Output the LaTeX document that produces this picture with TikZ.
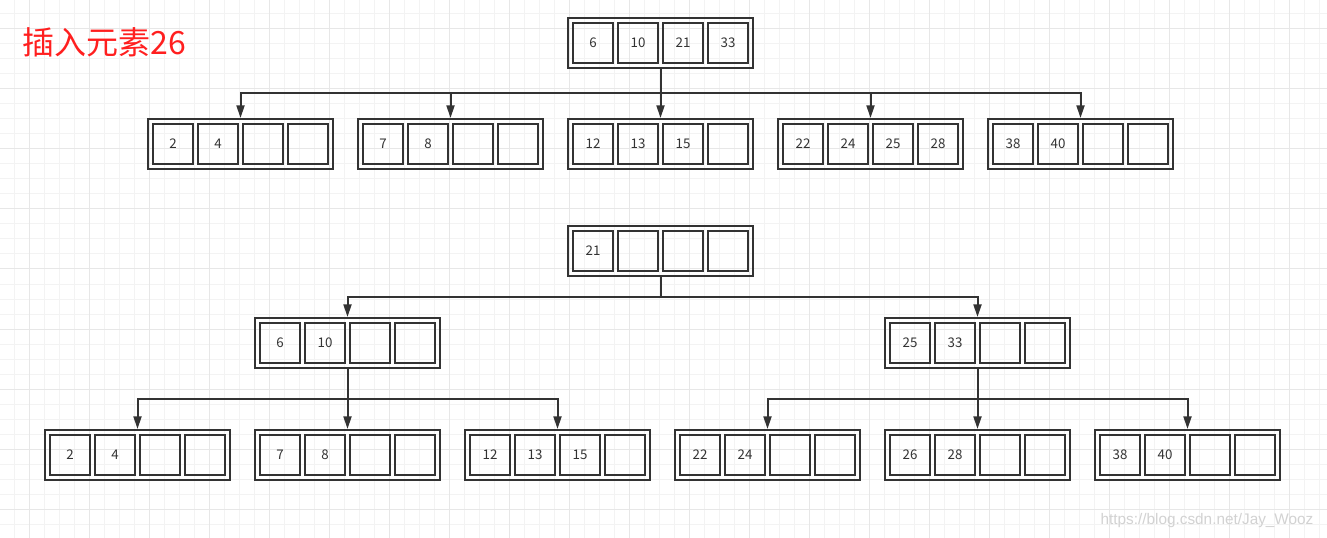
\documentclass[tikz,border=0pt]{standalone}
\usepackage{fontspec}
\setmainfont{Noto Sans CJK SC}
\newfontfamily\wmfont{Liberation Sans}
\usetikzlibrary{arrows.meta,positioning,calc}
\definecolor{btink}{HTML}{333333}
\definecolor{btred}{HTML}{FF1F1F}
\definecolor{btgrid}{HTML}{F3F3F3}
\definecolor{btgridmajor}{HTML}{E7E7E7}
\definecolor{btmark}{HTML}{D2D2D2}

% one B-tree node: outer frame and four key cells
\newcommand{\btnode}[6]{%
  \node[outerbox] (#1) at (#2) {};
  \foreach \dx/\val [count=\i] in {-67.5/#3,-22.5/#4,22.5/#5,67.5/#6}
    \node[cellbox] (#1-\i) at ($(#1.center)+(\dx,0)$) {\val};
}

\begin{document}
\begin{tikzpicture}[x=0.75pt,y=-0.75pt,
    outerbox/.style={draw=btink,line width=1.5pt,minimum width=138.75pt,minimum height=37.5pt,inner sep=0pt},
    cellbox/.style={draw=btink,line width=1.5pt,minimum size=30pt,inner sep=0pt,text=btink,font=\fontsize{10}{12}\selectfont},
    link/.style={draw=btink,line width=1.5pt,-{Triangle[length=9.5pt,width=6pt]},
      to path={(\tikztostart.south) |- ($(\tikztostart.south)!.5!(\tikztotarget.north)$) -| (\tikztotarget.north)}}]
  \useasboundingbox (0,0) rectangle (1327,538);
  \fill[white] (0,0) rectangle (1327,538);
  % grid
  \foreach \g in {14,29,...,1326} \draw[btgrid,line width=0.75pt] (\g,0) -- (\g,538);
  \foreach \g in {14,29,...,537} \draw[btgrid,line width=0.75pt] (0,\g) -- (1327,\g);
  \foreach \g in {29,89,...,1326} \draw[btgridmajor,line width=0.75pt] (\g,0) -- (\g,538);
  \foreach \g in {29,89,...,537} \draw[btgridmajor,line width=0.75pt] (0,\g) -- (1327,\g);

  \node[font=\fontsize{24}{28}\selectfont,text=btred] (title) at (104,42) {插入元素26};

  % before the split
  \btnode{a0}{660.5,43}{6}{10}{21}{33}
  \btnode{a1}{240.5,144}{2}{4}{}{}
  \btnode{a2}{450.5,144}{7}{8}{}{}
  \btnode{a3}{660.5,144}{12}{13}{15}{}
  \btnode{a4}{870.5,144}{22}{24}{25}{28}
  \btnode{a5}{1080.5,144}{38}{40}{}{}
  \foreach \c in {a1,a2,a3,a4,a5} \draw[link] (a0) to (\c);

  % after the split
  \btnode{b0}{660.5,251}{21}{}{}{}
  \btnode{b1}{347.5,343}{6}{10}{}{}
  \btnode{b2}{977.5,343}{25}{33}{}{}
  \btnode{c1}{137.5,455}{2}{4}{}{}
  \btnode{c2}{347.5,455}{7}{8}{}{}
  \btnode{c3}{557.5,455}{12}{13}{15}{}
  \btnode{c4}{767.5,455}{22}{24}{}{}
  \btnode{c5}{977.5,455}{26}{28}{}{}
  \btnode{c6}{1187.5,455}{38}{40}{}{}
  \foreach \c in {b1,b2} \draw[link] (b0) to (\c);
  \foreach \c in {c1,c2,c3} \draw[link] (b1) to (\c);
  \foreach \c in {c4,c5,c6} \draw[link] (b2) to (\c);

  \node[font=\wmfont\fontsize{11.5}{13}\selectfont,text=btmark] (mark) at (1207,521) {https://blog.csdn.net/Jay\_Wooz};
\end{tikzpicture}
\end{document}
